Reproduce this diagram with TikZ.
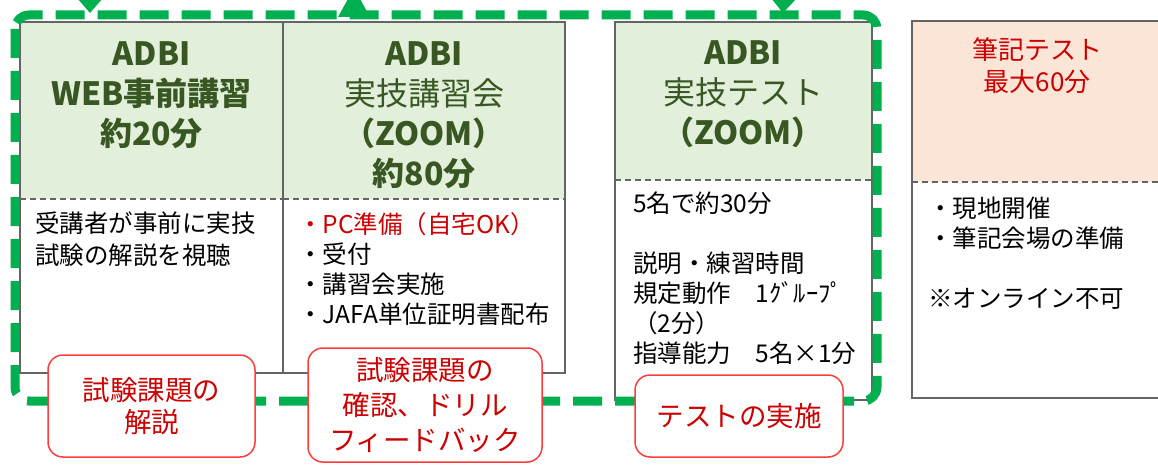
\documentclass[tikz,border=0pt]{standalone}
\usepackage{fontspec}
\setmainfont{Noto Sans CJK JP}
\definecolor{hdrfill}{RGB}{226,239,218}
\definecolor{peach}{RGB}{251,229,214}
\definecolor{framegreen}{RGB}{0,176,80}
\definecolor{hdrtext}{RGB}{56,87,35}
\definecolor{boxgray}{RGB}{100,100,100}
\definecolor{lblred}{RGB}{255,60,60}
\definecolor{txtred}{RGB}{204,0,0}
\tikzset{
 boxline/.style={draw=boxgray, line width=2pt},
 sepline/.style={draw=boxgray, line width=1.8pt, dash pattern=on 6pt off 4pt},
 hdr/.style={inner sep=0pt, align=center, text=hdrtext, font=\fontsize{32}{40}\selectfont, anchor=north},
 body/.style={inner sep=0pt, align=left, anchor=north west, font=\fontsize{24.5}{30}\selectfont},
 lbl/.style={draw=lblred, line width=1.5pt, fill=white, rounded corners=15pt, align=center, text=txtred, font=\fontsize{27.5}{32}\selectfont, inner sep=0pt},
 gframe/.style={draw=framegreen, line width=9pt, dash pattern=on 29pt off 13pt, rounded corners=14pt},
 tip/.style={fill=framegreen, draw=none},
}
\begin{document}
\begin{tikzpicture}[x=1pt,y=-1pt]
\useasboundingbox (0,0) rectangle (1158,465);
\clip (0,0) rectangle (1158,465);
% box 1
\fill[hdrfill] (20,22) rectangle (283,199);
\draw[boxline] (20,22) rectangle (283,373);
\draw[sepline] (20,199) -- (283,199);
% box 2
\fill[hdrfill] (283,22) rectangle (565,199);
\draw[boxline] (283,22) rectangle (565,373);
\draw[sepline] (283,199) -- (565,199);
% box 3
\fill[hdrfill] (615,22) rectangle (872,180);
\draw[boxline] (615,22) rectangle (872,400);
\draw[sepline] (615,180) -- (872,180);
% box 4
\fill[peach] (912,21) rectangle (1170,182);
\draw[boxline] (912,21) rectangle (1170,398);
\draw[sepline] (912,182) -- (1170,182);
% headers
\node[hdr] (h1) at (151.5,41) {\bfseries ADBI\\\bfseries WEB事前講習\\\bfseries 約20分};
\node[hdr] (h2) at (424,41) {\bfseries ADBI\\実技講習会\\\bfseries （ZOOM）\\\bfseries 約80分};
\node[hdr] (h3) at (743,40) {\bfseries ADBI\\実技テスト\\\bfseries （ZOOM）};
\node[hdr, text=txtred, font=\fontsize{26}{32}\selectfont] (h4) at (1037,37) {筆記テスト\\最大60分};
% bodies
\node[body, font=\fontsize{24.5}{32}\selectfont] (b1) at (35,212) {受講者が事前に実技\\試験の解説を視聴};
\node[body] (b2) at (298,212) {{\color{txtred}・PC準備（自宅OK）}\\・受付\\・講習会実施\\・JAFA単位証明書配布};
\node[body] (b3) at (633,192) {5名で約30分\\[30pt]説明・練習時間\\規定動作　1ｸﾞﾙｰﾌﾟ\\（2分）\\指導能力　5名×1分};
\node[body] (b4) at (928,197) {・現地開催\\・筆記会場の準備\\[30pt]※オンライン不可};
% green frame
\draw[gframe] (15,15) rectangle (877,401);
\fill[tip] (77,-2) -- (103,-2) -- (90,13) -- cycle;
\fill[tip] (338,17) -- (370,17) -- (354,-12) -- cycle;
\fill[tip] (771,-2) -- (797,-2) -- (783,13) -- cycle;
% labels
\node[lbl, minimum width=207pt, minimum height=102pt] (l1) at (151.5,406) {試験課題の\\解説};
\node[lbl, minimum width=234pt, minimum height=114pt, font=\fontsize{27.5}{35}\selectfont] (l2) at (425,405) {試験課題の\\確認、ドリル\\フィードバック};
\node[lbl, minimum width=208pt, minimum height=82pt] (l3) at (739,416) {テストの実施};
\end{tikzpicture}
\end{document}
